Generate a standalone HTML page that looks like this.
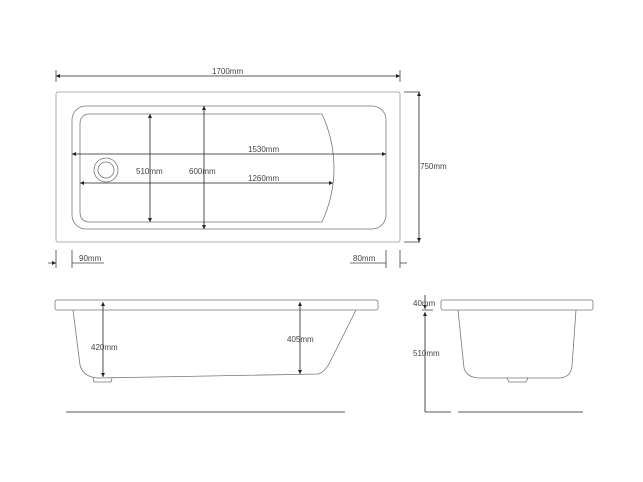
<!DOCTYPE html>
<html><head><style>body{margin:0;background:#fff}svg{display:block}text{font-family:"Liberation Sans",sans-serif;font-size:8px;fill:#444;stroke:none}</style></head><body>
<svg width="643" height="482" viewBox="0 0 643 482" fill="none" stroke="#444" stroke-width="0.8">
<defs><marker id="a" viewBox="0 0 6 6" refX="6" refY="3" markerWidth="5" markerHeight="5" orient="auto-start-reverse"><path d="M0,0L6,3L0,6z" fill="#222" stroke="none"/></marker></defs>
<!-- top view -->
<line x1="56" y1="70" x2="56" y2="82"/><line x1="400" y1="70" x2="400" y2="82"/>
<line x1="56" y1="76" x2="400" y2="76" stroke="#222" marker-start="url(#a)" marker-end="url(#a)"/>
<text x="212" y="74">1700mm</text>
<rect x="56" y="92" width="344" height="150" rx="2" stroke="#999"/>
<rect x="72" y="106" width="314" height="123" rx="14" stroke="#777"/>
<path d="M90 114H322Q334 140 334 168Q334 196 322 222H90Q80 222 80 212V124Q80 114 90 114Z" stroke="#777"/>
<circle cx="106" cy="170" r="12" stroke="#777"/><circle cx="106" cy="170" r="8" stroke="#777"/>
<line x1="72" y1="154" x2="386" y2="154" stroke="#222" marker-start="url(#a)" marker-end="url(#a)"/>
<text x="248" y="152">1530mm</text>
<line x1="80" y1="183" x2="333" y2="183" stroke="#222" marker-start="url(#a)" marker-end="url(#a)"/>
<text x="248" y="181">1260mm</text>
<line x1="150" y1="114" x2="150" y2="222" stroke="#222" marker-start="url(#a)" marker-end="url(#a)"/>
<text x="136" y="174">510mm</text>
<line x1="204" y1="106" x2="204" y2="229" stroke="#222" marker-start="url(#a)" marker-end="url(#a)"/>
<text x="189" y="174">600mm</text>
<line x1="404" y1="92" x2="420" y2="92"/><line x1="404" y1="242" x2="420" y2="242"/>
<line x1="419" y1="92" x2="419" y2="242" stroke="#222" marker-start="url(#a)" marker-end="url(#a)"/>
<text x="420" y="169">750mm</text>
<line x1="56" y1="250" x2="56" y2="268"/><line x1="72" y1="250" x2="72" y2="268"/>
<line x1="48" y1="263" x2="56" y2="263" marker-end="url(#a)"/><line x1="72" y1="263" x2="104" y2="263"/>
<text x="79" y="261">90mm</text>
<line x1="386" y1="250" x2="386" y2="268"/><line x1="400" y1="250" x2="400" y2="268"/>
<line x1="350" y1="263" x2="386" y2="263"/><line x1="400" y1="263" x2="407" y2="263"/>
<text x="353" y="261">80mm</text>
<!-- side view -->
<rect x="55" y="300" width="323" height="10" rx="2" stroke="#777"/>
<path d="M73 310L80 365Q83 377 98 378L318 374Q325 372 330 362L356 310" stroke="#777"/>
<path d="M93 378L94 382H111L112 378" stroke="#777"/>
<line x1="103" y1="302" x2="103" y2="377" stroke="#222" marker-start="url(#a)" marker-end="url(#a)"/>
<text x="91" y="350">420mm</text>
<line x1="300" y1="302" x2="300" y2="374" stroke="#222" marker-start="url(#a)" marker-end="url(#a)"/>
<text x="287" y="342">405mm</text>
<line x1="66" y1="412" x2="345" y2="412" stroke="#222"/>
<!-- end view -->
<rect x="441" y="300" width="152" height="10" rx="2" stroke="#777"/>
<path d="M458 310L464 368Q467 378 480 378H560Q571 377 572 366L576 310" stroke="#777"/>
<path d="M507 378L509 382H526L528 378" stroke="#777"/>
<line x1="425" y1="295" x2="425" y2="309" stroke="#222" marker-end="url(#a)"/>
<line x1="425" y1="312" x2="425" y2="412" stroke="#222" marker-start="url(#a)"/>
<line x1="422" y1="310" x2="433" y2="310"/>
<text x="413" y="306">40mm</text>
<text x="413" y="356">510mm</text>
<line x1="425" y1="412" x2="451" y2="412" stroke="#222"/>
<line x1="458" y1="412" x2="583" y2="412" stroke="#222"/>
</svg>
</body></html>
